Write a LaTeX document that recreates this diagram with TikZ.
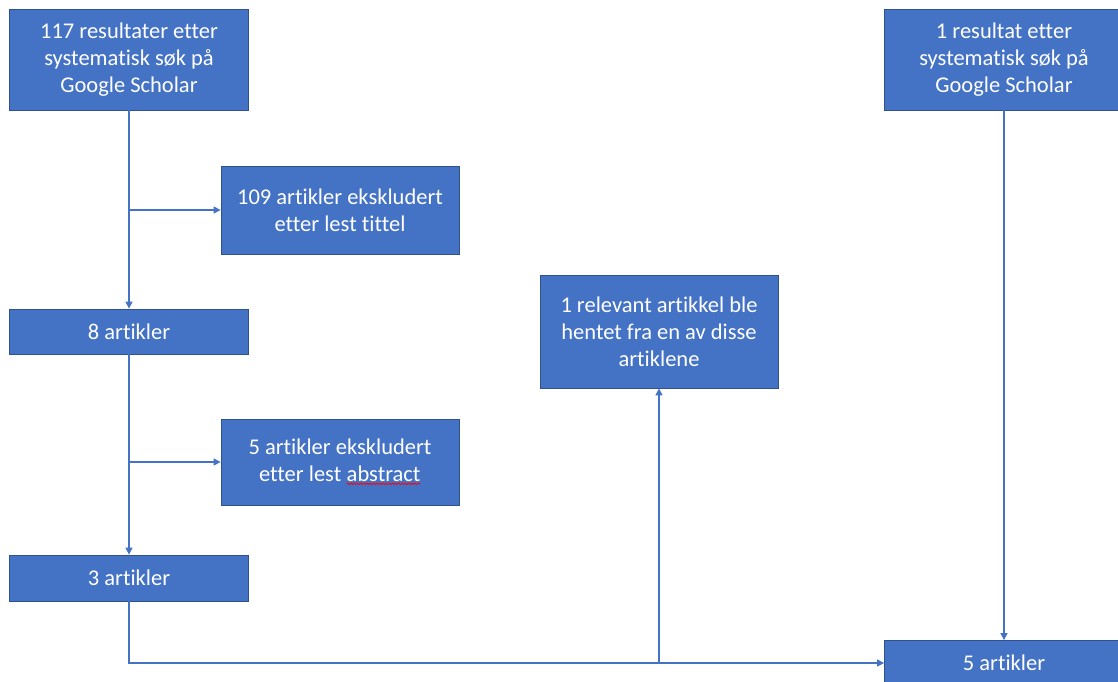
\documentclass[tikz,border=0pt]{standalone}
\usepackage{fontspec}
\setmainfont{Carlito}[Ligatures=NoCommon]
\usetikzlibrary{arrows.meta,decorations.pathmorphing}
\definecolor{boxblue}{HTML}{4472C4}
\definecolor{boxborder}{HTML}{2F528F}
\definecolor{linkblue}{HTML}{4472C4}
\newcommand\redwave[1]{\tikz[baseline=(wavyword.base),x=1pt,y=1pt]{\node[rectangle,inner sep=0pt,outer sep=0pt,minimum width=0pt,minimum height=0pt,draw=none,fill=none,text=white,align=left] (wavyword) {#1};
  \draw[red, line width=0.7pt, decorate, decoration={snake,amplitude=0.9pt,segment length=3.2pt}] ([yshift=-2pt]wavyword.south west) -- ([yshift=-2pt]wavyword.south east);}}
\tikzset{
  flowbox/.style={rectangle, fill=boxblue, draw=boxborder, line width=0.8pt, text=white,
    align=center, inner sep=2pt, font=\fontsize{22.5}{27}\selectfont},
  link/.style={draw=linkblue, line width=1.3pt, -{Triangle[length=7pt,width=7pt]}}
}
\begin{document}
\begin{tikzpicture}[x=1pt,y=-1pt]
\useasboundingbox (0,0) rectangle (1118,681);
\node[flowbox, minimum width=239pt, minimum height=101pt] (A) at (129,59.5) {117 resultater etter\\systematisk søk på\\Google Scholar};
\node[flowbox, minimum width=238pt, minimum height=88pt] (B) at (340,210) {109 artikler ekskludert\\etter lest tittel};
\node[flowbox, minimum width=239pt, minimum height=45pt] (C) at (129,331.5) {8 artikler};
\node[flowbox, minimum width=238pt, minimum height=86pt] (D) at (340,462) {5 artikler ekskludert\\etter lest \redwave{abstract}};
\node[flowbox, minimum width=239pt, minimum height=46pt] (E) at (129,578) {3 artikler};
\node[flowbox, minimum width=238pt, minimum height=113pt] (F) at (659,331.5) {1 relevant artikkel ble\\hentet fra en av disse\\artiklene};
\node[flowbox, minimum width=239pt, minimum height=101pt] (G) at (1004,59.5) {1 resultat etter\\systematisk søk på\\Google Scholar};
\node[flowbox, minimum width=239pt, minimum height=45pt] (H) at (1004,663) {5 artikler};
\draw[link] (A.south) -- (C.north);
\draw[link] (A.south |- B.west) -- (B.west);
\draw[link] (C.south) -- (E.north);
\draw[link] (C.south |- D.west) -- (D.west);
\draw[link] (E.south) -- (E.south |- H.west) -- (H.west);
\draw[link] (F.south |- H.west) -- (F.south);
\draw[link] (G.south) -- (H.north);
\end{tikzpicture}
\end{document}
